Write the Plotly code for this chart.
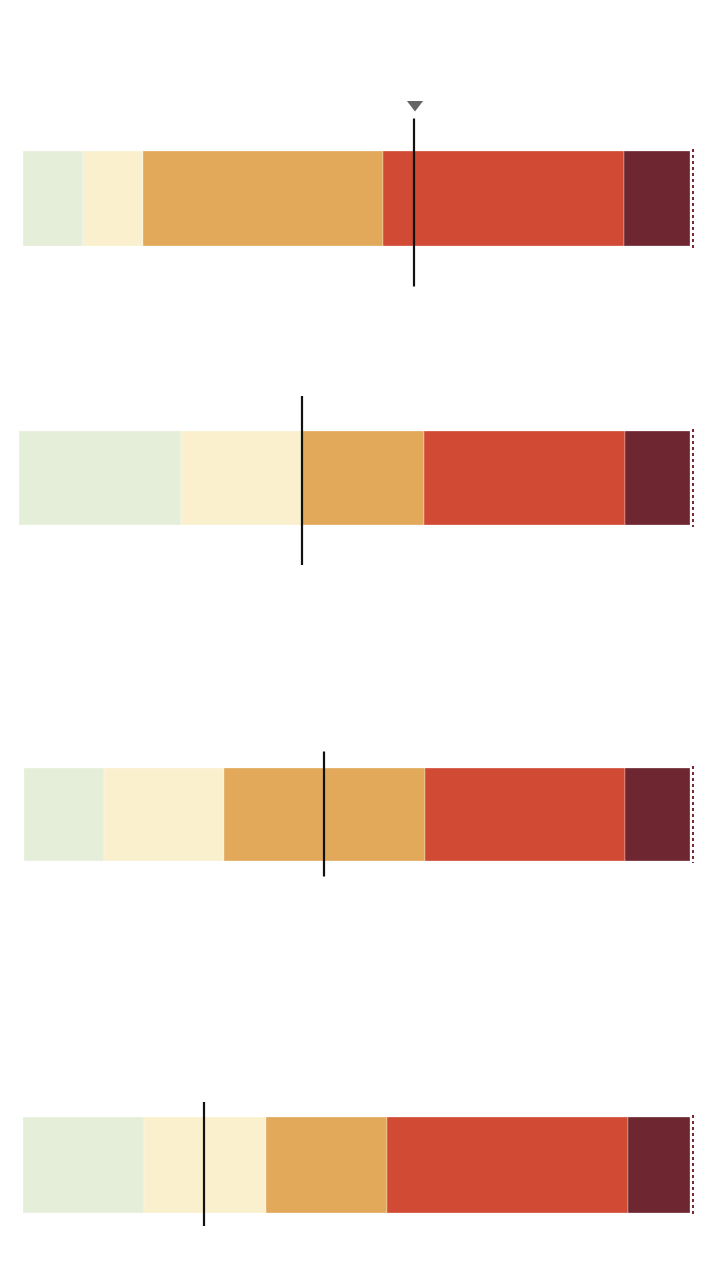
import plotly.graph_objects as go

# ---- data (in chart scale units) ----
rows = ["Row 1", "Row 2", "Row 3", "Row 4"]
bar_start = [23, 19, 24, 23]
seg1 = [60, 162, 80, 121]
seg2 = [60, 121, 120, 122]
seg3 = [240, 122, 201, 121]
seg4 = [241, 201, 200, 241]
seg5 = [66, 65, 65, 62]
marker_value = [414, 302, 324, 204]
total_value = [693, 693, 693, 693]

# ---- layout / style ----
row_center = [198.5, 478, 814.5, 1165]
row_thickness = [95, 94, 93, 96]
line_up = [80, 82, 63, 63]
line_down = [88, 87, 62, 61]
colors = ["#E5EED9", "#FAF0CD", "#E2A95B", "#D04A34", "#6E2630"]

segments = [seg1, seg2, seg3, seg4, seg5]

fig = go.Figure()
starts = list(bar_start)
for seg, col in zip(segments, colors):
    fig.add_trace(go.Bar(
        y=row_center, x=seg, base=list(starts), orientation="h",
        width=row_thickness, marker=dict(color=col, line=dict(color="rgba(255,255,255,0.3)", width=1)),
        hoverinfo="skip", showlegend=False))
    starts = [s + v for s, v in zip(starts, seg)]

# dotted end lines
for i in range(len(rows)):
    half = row_thickness[i] / 2 + 2
    fig.add_trace(go.Scatter(
        x=[total_value[i], total_value[i]],
        y=[row_center[i] - half, row_center[i] + half],
        mode="lines", line=dict(color="#7A2A36", width=2, dash="dot"),
        hoverinfo="skip", showlegend=False))

# marker lines
for i in range(len(rows)):
    fig.add_trace(go.Scatter(
        x=[marker_value[i], marker_value[i]],
        y=[row_center[i] - line_up[i], row_center[i] + line_down[i]],
        mode="lines", line=dict(color="#111111", width=2.2),
        hoverinfo="skip", showlegend=False))

# triangle pointer on the first row
fig.add_trace(go.Scatter(
    x=[marker_value[0] + 1], y=[row_center[0] - line_up[0] - 14],
    mode="markers", marker=dict(symbol="triangle-down", size=14, color="#666666"),
    hoverinfo="skip", showlegend=False))

fig.update_layout(
    width=720, height=1280, margin=dict(l=0, r=0, t=0, b=0),
    paper_bgcolor="white", plot_bgcolor="white", barmode="overlay",
    xaxis=dict(range=[0, 720], visible=False, fixedrange=True),
    yaxis=dict(range=[1280, 0], visible=False, fixedrange=True),
)
fig.write_html("out.html")
